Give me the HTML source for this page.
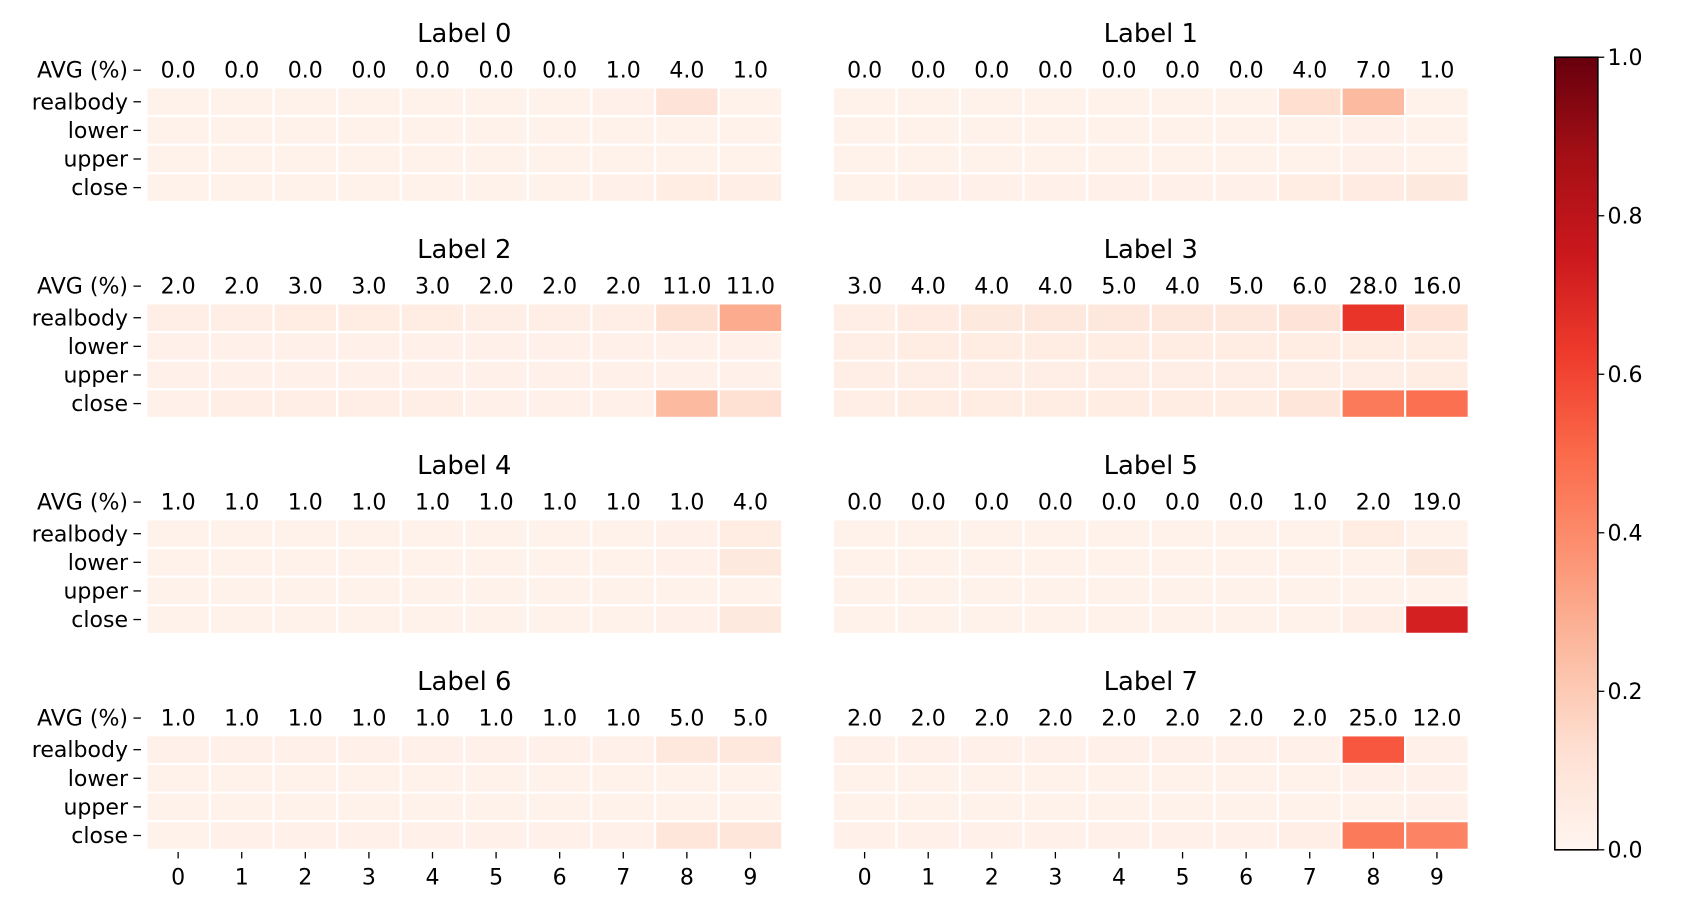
<!DOCTYPE html>
<html><head><meta charset="utf-8"><style>
html,body{margin:0;padding:0;background:#fff;width:1685px;height:920px;overflow:hidden}
text{font-family:"DejaVu Sans","Liberation Sans",sans-serif;fill:#000}
</style></head><body>
<svg id="chart" width="1685" height="920" viewBox="0 0 1566 852" preserveAspectRatio="none" xmlns="http://www.w3.org/2000/svg"></svg>
<script>
const rowLabels=["realbody","lower","upper","close"];
const colLabels=["0","1","2","3","4","5","6","7","8","9"];
const panelTitles=["Label 0","Label 1","Label 2","Label 3","Label 4","Label 5","Label 6","Label 7"];
const avg0=[0,0,0,0,0,0,0,1,4,1];
const avg1=[0,0,0,0,0,0,0,4,7,1];
const avg2=[2,2,3,3,3,2,2,2,11,11];
const avg3=[3,4,4,4,5,4,5,6,28,16];
const avg4=[1,1,1,1,1,1,1,1,1,4];
const avg5=[0,0,0,0,0,0,0,1,2,19];
const avg6=[1,1,1,1,1,1,1,1,5,5];
const avg7=[2,2,2,2,2,2,2,2,25,12];
const vals0=[[.02,.02,.02,.02,.02,.02,.02,.03,.1,.02],[.02,.02,.02,.02,.02,.02,.02,.02,.02,.02],[.02,.02,.02,.02,.02,.02,.02,.02,.02,.02],[.02,.02,.02,.02,.02,.02,.02,.03,.05,.04]];
const vals1=[[.02,.02,.02,.02,.02,.02,.02,.13,.25,.02],[.02,.02,.02,.02,.02,.02,.02,.02,.03,.02],[.02,.02,.02,.02,.02,.02,.02,.02,.03,.02],[.02,.03,.03,.03,.03,.03,.03,.05,.06,.07]];
const vals2=[[.04,.04,.05,.05,.05,.04,.04,.04,.12,.3],[.03,.03,.03,.03,.03,.03,.03,.03,.03,.03],[.03,.03,.03,.03,.03,.03,.03,.03,.03,.03],[.03,.04,.04,.04,.04,.03,.03,.03,.25,.12]];
const vals3=[[.04,.06,.07,.08,.08,.08,.08,.1,.65,.11],[.04,.05,.05,.05,.05,.05,.05,.05,.05,.05],[.04,.04,.04,.04,.04,.04,.04,.04,.04,.05],[.04,.05,.05,.05,.05,.05,.05,.09,.45,.48]];
const vals4=[[.02,.02,.02,.02,.02,.02,.02,.02,.03,.05],[.02,.02,.02,.02,.02,.02,.02,.02,.03,.07],[.02,.02,.02,.02,.02,.02,.02,.02,.02,.02],[.02,.02,.02,.02,.02,.02,.02,.02,.03,.07]];
const vals5=[[.02,.02,.02,.02,.02,.02,.02,.02,.05,.02],[.02,.02,.02,.02,.02,.02,.02,.02,.02,.07],[.02,.02,.02,.02,.02,.02,.02,.02,.02,.02],[.02,.02,.02,.02,.02,.02,.02,.02,.04,.72]];
const vals6=[[.03,.03,.03,.03,.03,.03,.03,.03,.08,.08],[.02,.02,.02,.02,.02,.02,.02,.02,.02,.02],[.02,.02,.02,.02,.02,.02,.02,.02,.02,.02],[.02,.03,.03,.03,.03,.03,.03,.03,.09,.09]];
const vals7=[[.03,.03,.03,.03,.03,.03,.03,.03,.55,.03],[.02,.02,.02,.02,.02,.02,.02,.02,.03,.03],[.02,.02,.02,.02,.02,.02,.02,.02,.02,.03],[.03,.03,.03,.03,.03,.03,.03,.04,.45,.42]];
const cbTicks=[0,0.2,0.4,0.6,0.8,1.0];
const avgs=[avg0,avg1,avg2,avg3,avg4,avg5,avg6,avg7];
const vals=[vals0,vals1,vals2,vals3,vals4,vals5,vals6,vals7];

const stops=["#fff5f0","#fee0d2","#fcbba1","#fc9272","#fb6a4a","#ef3b2c","#cb181d","#a50f15","#67000d"];
function hex(h){return [1,3,5].map(i=>parseInt(h.substr(i,2),16));}
function cmap(v){v=Math.max(0,Math.min(1,v));const p=v*8,i=Math.min(7,Math.floor(p)),t=p-i;const a=hex(stops[i]),b=hex(stops[i+1]);return "rgb("+a.map((x,k)=>Math.round(x+(b[k]-x)*t)).join(",")+")";}
const NS="http://www.w3.org/2000/svg";
const svg=document.getElementById("chart");
function mk(tag,attrs,txt){const e=document.createElementNS(NS,tag);for(const k in attrs)e.setAttribute(k,attrs[k]);if(txt!==undefined)e.textContent=txt;svg.appendChild(e);return e;}
const panelX0=[136,774],cellW=59.1,rowTop0=81,rowH=26.5,panelPitch=200;
function xPos(p,c){return panelX0[p%2]+c*cellW;}
function yPos(p,r){return rowTop0+Math.floor(p/2)*panelPitch+r*rowH;}
vals.forEach((pv,p)=>{
  const px=panelX0[p%2],py=Math.floor(p/2)*panelPitch;
  let t=mk("text",{x:px+cellW*5,y:39+py,"text-anchor":"middle","font-size":"24"},panelTitles[p]);
  
  
  pv.forEach((row,r)=>row.forEach((v,c)=>{
    const rc=mk("rect",{x:xPos(p,c),y:yPos(p,r),width:cellW,height:rowH,fill:cmap(v),stroke:"#fff","stroke-width":"2"});
    
    
  }));
  avgs[p].forEach((a,c)=>{
    const tx=mk("text",{x:xPos(p,c)+cellW/2,y:72+py,"text-anchor":"middle","font-size":"20.5"},a.toFixed(1));
    
    
  });
  if(p%2===0){
    const ylabs=["AVG (%)"].concat(rowLabels);
    ylabs.forEach((l,i)=>{
      const cy=i===0?65+py:yPos(p,i-1)+rowH/2;
      const tx=mk("text",{x:119,y:cy+7,"text-anchor":"end","font-size":"20.5"},l);
      
      
      mk("line",{x1:124,x2:131,y1:cy,y2:cy,stroke:"#000","stroke-width":"1.2"});
    });
  }
  if(p>=6){
    colLabels.forEach((l,c)=>{
      const cx=xPos(p,c)+cellW/2;
      mk("line",{x1:cx,x2:cx,y1:789,y2:795,stroke:"#000","stroke-width":"1.2"});
      const tx=mk("text",{x:cx,y:819,"text-anchor":"middle","font-size":"20.5"},l);
      
      
    });
  }
});
const defs=mk("defs",{});
const lg=document.createElementNS(NS,"linearGradient");lg.setAttribute("id","cb");lg.setAttribute("x1","0");lg.setAttribute("y1","1");lg.setAttribute("x2","0");lg.setAttribute("y2","0");
stops.forEach((s,i)=>{const st=document.createElementNS(NS,"stop");st.setAttribute("offset",i/8);st.setAttribute("stop-color",s);lg.appendChild(st);});
defs.appendChild(lg);
const cbTop=53,cbBot=787,cbL=1445,cbR=1485;
const cb=mk("rect",{x:cbL,y:cbTop,width:cbR-cbL,height:cbBot-cbTop,fill:"url(#cb)",stroke:"#000","stroke-width":"1.5"});


cbTicks.forEach(v=>{
  const y=cbBot-(cbBot-cbTop)*v;
  mk("line",{x1:cbR,x2:cbR+6,y1:y,y2:y,stroke:"#000","stroke-width":"1.2"});
  const tx=mk("text",{x:cbR+9,y:y+7,"font-size":"20.5"},v.toFixed(1));
  
  
});
</script>
</body></html>
